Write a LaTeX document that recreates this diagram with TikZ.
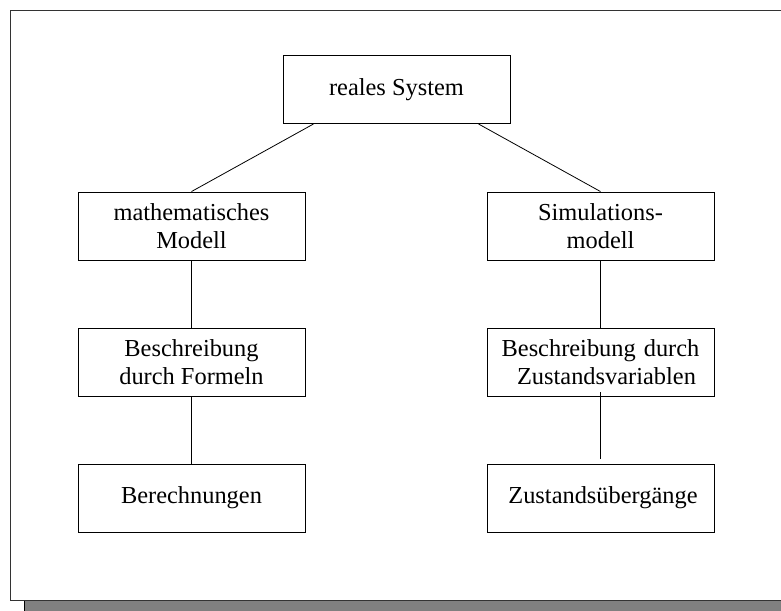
\documentclass[tikz,border=0pt]{standalone}
\usepackage{fontspec}
\setmainfont{Liberation Serif}
\begin{document}
\begin{tikzpicture}[x=1pt,y=-1pt,
  box/.style={draw=black,line width=0.9pt,fill=white,minimum width=227pt,minimum height=68pt,
    inner sep=0pt,align=center,font=\fontsize{24.4}{27.5}\selectfont},
  link/.style={draw=black,line width=0.8pt}]
\useasboundingbox (0,0) rectangle (781,610);
\clip (0,0) rectangle (781,610);
% frame with drop shadow
\filldraw[fill=black!50,draw=black,line width=0.9pt] (24,24) rectangle (800,625);
\filldraw[fill=white,draw=black!80,line width=0.9pt] (10.5,10.5) rectangle (790,600);
% boxes
\node[box] (real) at (396.5,89.5) {reales System};
\node[box] (math) at (191.5,226) {mathematisches\\Modell};
\node[box] (sim) at (600.5,226) {Simulations-\\modell};
\node[box] (formeln) at (191.5,362) {Beschreibung\\durch Formeln};
\node[box] (zvar) at (600.5,362) {Beschreibung\hspace{8pt}durch\\\hspace*{12pt}Zustandsvariablen};
\node[box] (ber) at (191.5,498) {Berechnungen};
\node[box] (zueb) at (600.5,498) {\hspace*{5pt}Zustands\"uberg\"ange};
% connectors
\draw[link] ([xshift=31pt]real.south west) -- (math.north);
\draw[link] ([xshift=-32pt]real.south east) -- (sim.north);
\draw[link] (math.south) -- (formeln.north);
\draw[link] (formeln.south) -- (ber.north);
\draw[link] (sim.south) -- (zvar.north);
\draw[link] ([yshift=4pt]zvar.south) -- ([yshift=5pt]zueb.north);
\end{tikzpicture}
\end{document}
